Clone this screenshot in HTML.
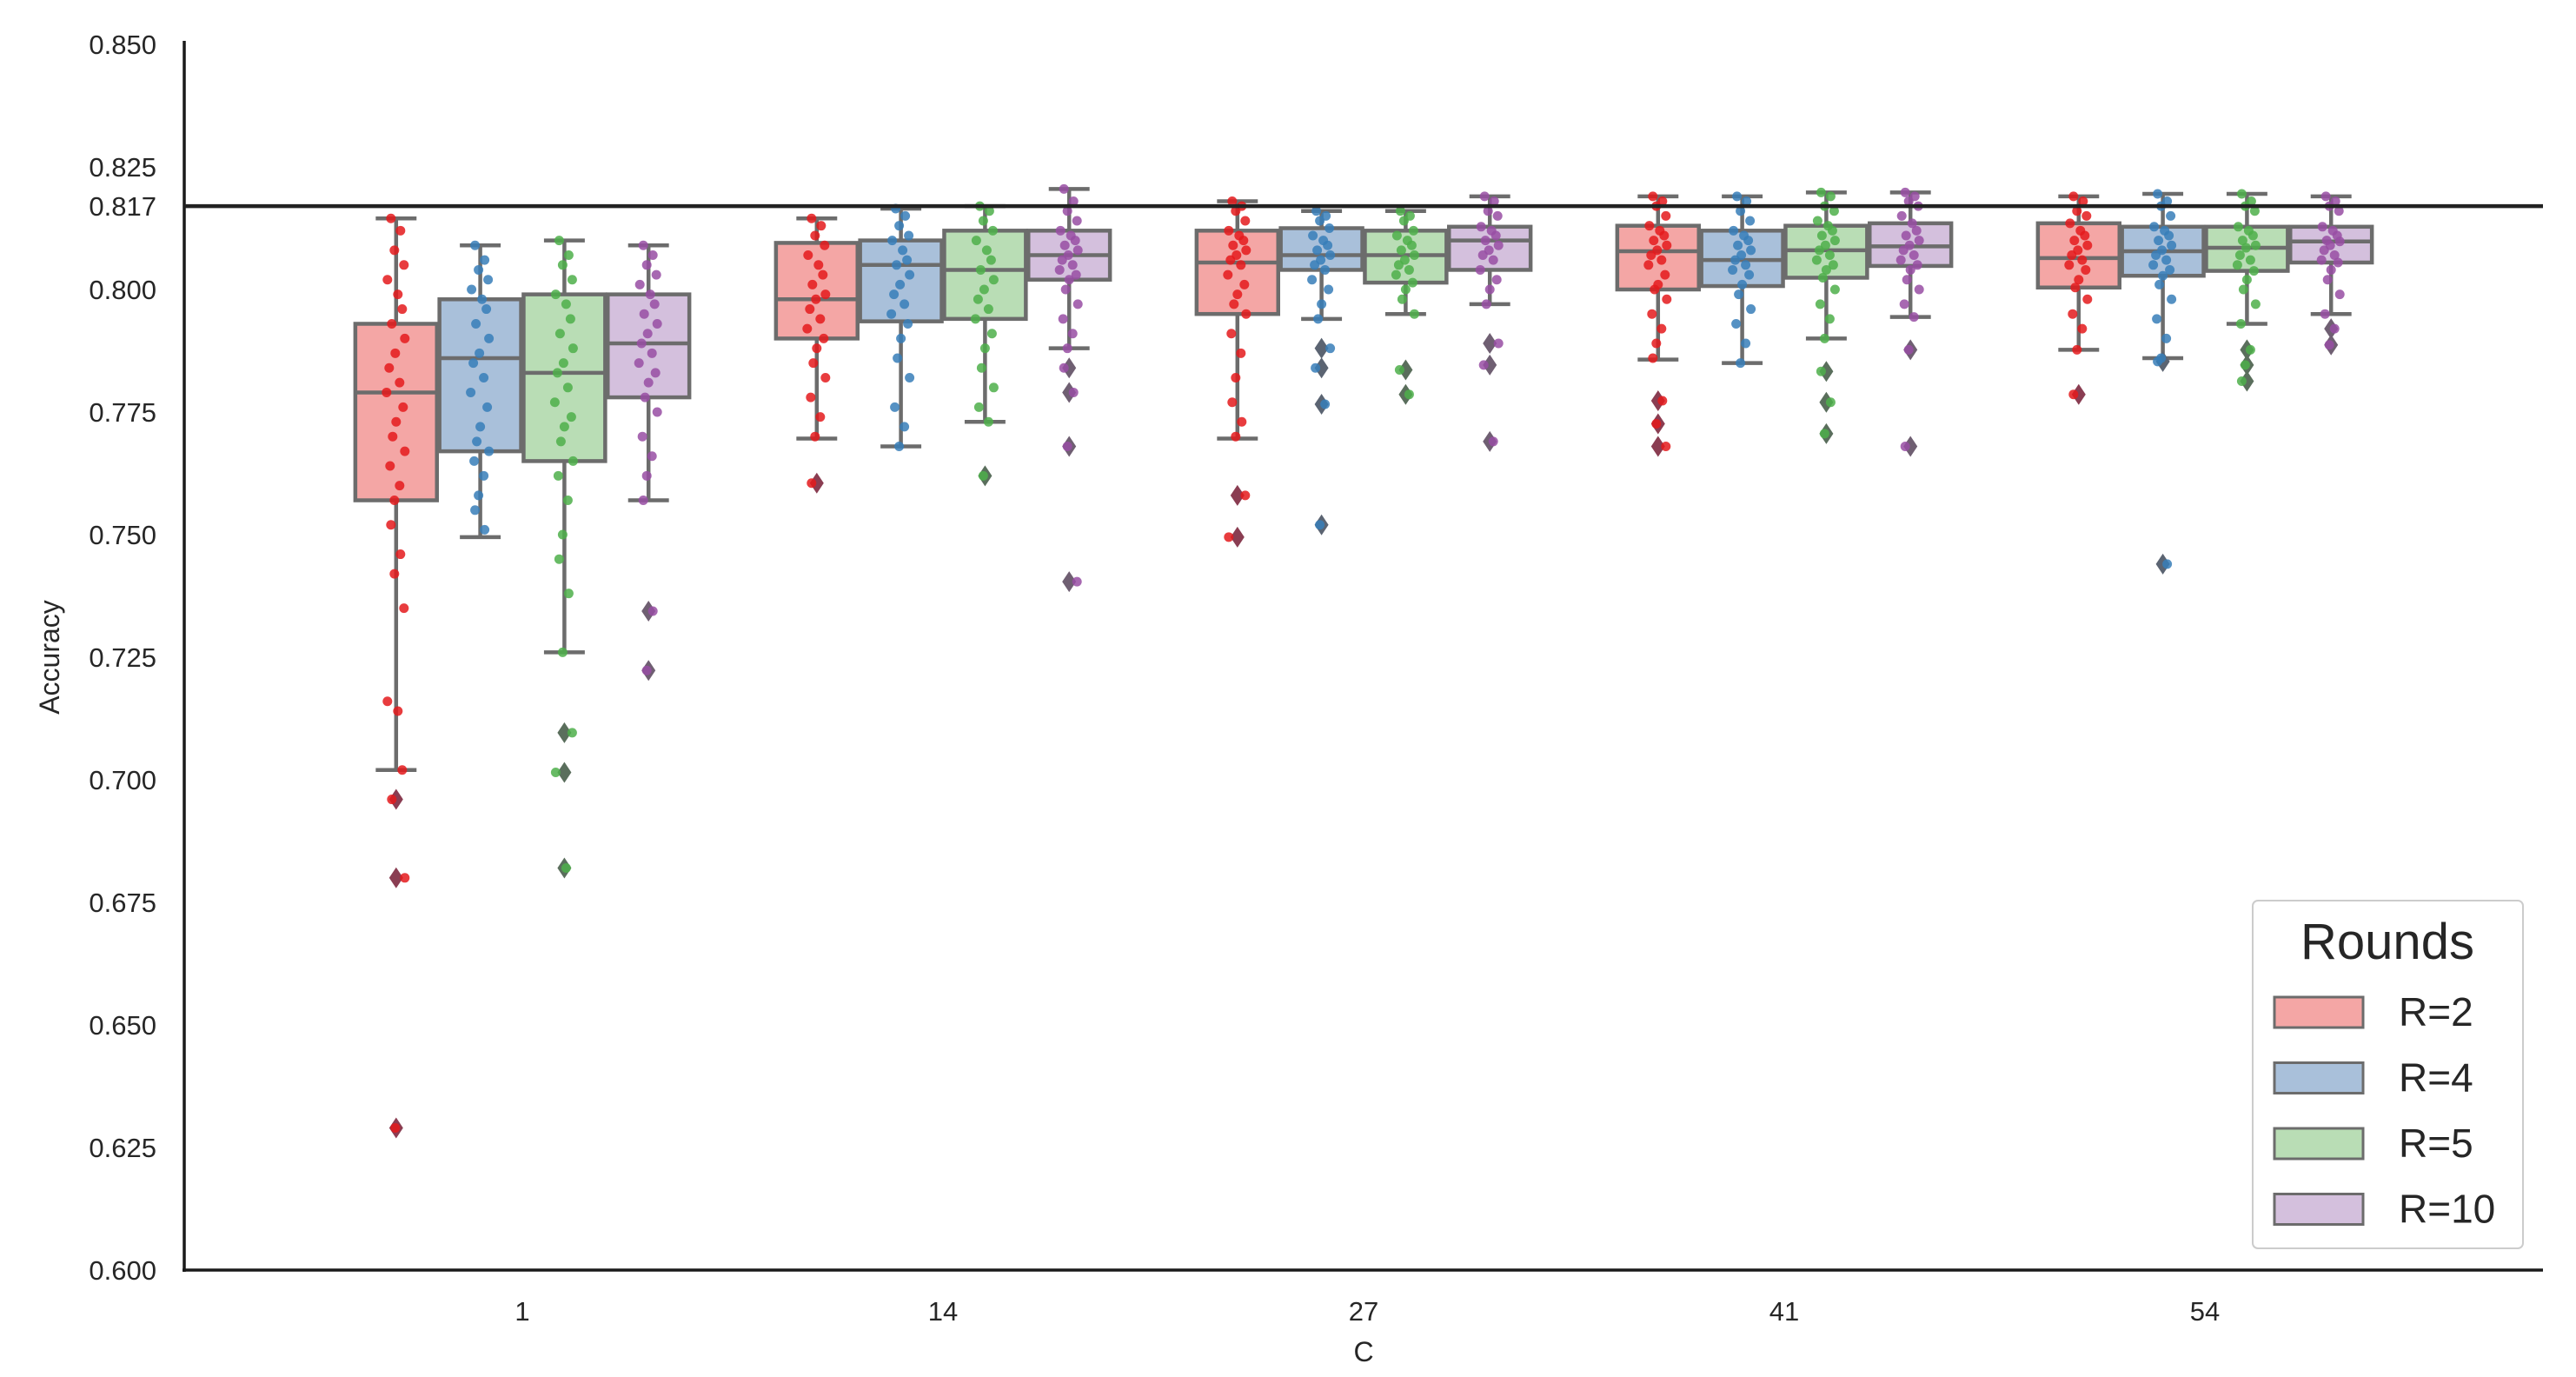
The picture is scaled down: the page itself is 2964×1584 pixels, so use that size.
<!DOCTYPE html>
<html><head><meta charset="utf-8">
<style>
html,body{margin:0;padding:0;background:#fff;}
svg{display:block;font-family:"Liberation Sans",Arial,sans-serif;}
</style></head>
<body>
<svg id="chart" width="2964" height="1584" viewBox="0 0 2964 1584" xmlns="http://www.w3.org/2000/svg"></svg>
<script>
const categories = ["1","14","27","41","54"];
const hues = ["R=2","R=4","R=5","R=10"];
const yTicks = [0.600,0.625,0.650,0.675,0.700,0.725,0.750,0.775,0.800,0.817,0.825,0.850];
const yTickLabels = ["0.600","0.625","0.650","0.675","0.700","0.725","0.750","0.775","0.800","0.817","0.825","0.850"];
const refLine = 0.817;
// box stats per category, per hue: [whiskerLow, Q1, median, Q3, whiskerHigh]
const statsC1 = [[0.702,0.757,0.779,0.793,0.8145],[0.7495,0.767,0.786,0.798,0.809],[0.726,0.765,0.783,0.799,0.810],[0.757,0.778,0.789,0.799,0.809]];
const statsC14 = [[0.7696,0.790,0.798,0.8095,0.8145],[0.768,0.7935,0.805,0.810,0.8165],[0.773,0.794,0.804,0.812,0.817],[0.788,0.802,0.807,0.812,0.8205]];
const statsC27 = [[0.7696,0.795,0.8055,0.812,0.818],[0.794,0.804,0.807,0.8125,0.816],[0.795,0.8014,0.807,0.812,0.816],[0.797,0.804,0.810,0.8128,0.819]];
const statsC41 = [[0.7857,0.800,0.8078,0.813,0.819],[0.785,0.8007,0.806,0.812,0.819],[0.790,0.8024,0.808,0.813,0.8198],[0.7944,0.8048,0.8088,0.8135,0.8198]];
const statsC54 = [[0.7877,0.8004,0.8064,0.8135,0.819],[0.786,0.8028,0.8078,0.8128,0.8195],[0.793,0.8038,0.8085,0.8128,0.8195],[0.795,0.8055,0.8098,0.8128,0.819]];
const outC1 = [[0.696,0.680,0.629],[],[0.7096,0.7015,0.682],[0.7344,0.7223]];
const outC14 = [[0.7605],[],[0.762],[0.784,0.779,0.768,0.7404]];
const outC27 = [[0.758,0.7495],[0.788,0.784,0.7766,0.752],[0.7836,0.7786],[0.789,0.7846,0.769]];
const outC41 = [[0.7773,0.7726,0.768],[],[0.7833,0.777,0.7706],[0.7877,0.768]];
const outC54 = [[0.7786],[0.7853,0.744],[0.7877,0.7846,0.7813],[0.792,0.7887]];
const ptsC1 = [
 [0.8145,0.812,0.808,0.805,0.802,0.799,0.796,0.793,0.790,0.787,0.784,0.781,0.779,0.776,0.773,0.770,0.767,0.764,0.760,0.757,0.752,0.746,0.742,0.735,0.716,0.714,0.702],
 [0.809,0.806,0.804,0.802,0.800,0.798,0.796,0.793,0.790,0.787,0.785,0.782,0.779,0.776,0.772,0.769,0.767,0.765,0.762,0.758,0.755,0.751],
 [0.810,0.807,0.805,0.802,0.799,0.797,0.794,0.791,0.788,0.785,0.783,0.780,0.777,0.774,0.772,0.769,0.765,0.762,0.757,0.750,0.745,0.738,0.726],
 [0.809,0.807,0.805,0.803,0.801,0.799,0.797,0.795,0.793,0.791,0.789,0.787,0.785,0.783,0.781,0.778,0.775,0.770,0.766,0.762,0.757]];
const ptsC14 = [
 [0.8145,0.813,0.811,0.809,0.807,0.805,0.803,0.801,0.799,0.798,0.796,0.794,0.792,0.790,0.788,0.785,0.782,0.778,0.774,0.770],
 [0.8165,0.815,0.813,0.811,0.810,0.808,0.806,0.805,0.803,0.801,0.799,0.797,0.795,0.793,0.790,0.786,0.782,0.776,0.772,0.768],
 [0.817,0.816,0.814,0.812,0.810,0.808,0.806,0.804,0.802,0.800,0.798,0.796,0.794,0.791,0.788,0.784,0.780,0.776,0.773],
 [0.8205,0.818,0.816,0.814,0.812,0.811,0.810,0.809,0.808,0.807,0.806,0.805,0.804,0.803,0.802,0.800,0.797,0.794,0.791,0.788]];
const ptsC27 = [
 [0.818,0.817,0.816,0.814,0.812,0.811,0.810,0.809,0.808,0.807,0.806,0.805,0.803,0.801,0.799,0.797,0.795,0.791,0.787,0.782,0.777,0.773,0.770],
 [0.816,0.815,0.814,0.8125,0.811,0.810,0.809,0.808,0.807,0.806,0.805,0.804,0.802,0.800,0.797,0.794],
 [0.816,0.815,0.814,0.812,0.811,0.810,0.809,0.808,0.807,0.806,0.805,0.804,0.803,0.8014,0.800,0.798,0.795],
 [0.819,0.818,0.816,0.815,0.8128,0.812,0.811,0.810,0.809,0.808,0.807,0.806,0.804,0.802,0.800,0.797]];
const ptsC41 = [
 [0.819,0.818,0.817,0.815,0.813,0.812,0.811,0.810,0.809,0.808,0.807,0.806,0.805,0.803,0.801,0.800,0.798,0.795,0.792,0.789,0.786],
 [0.819,0.818,0.816,0.814,0.812,0.811,0.810,0.809,0.808,0.807,0.806,0.805,0.804,0.803,0.801,0.799,0.796,0.793,0.789,0.785],
 [0.8198,0.819,0.817,0.816,0.814,0.813,0.812,0.811,0.810,0.809,0.808,0.807,0.806,0.805,0.804,0.8024,0.800,0.797,0.794,0.790],
 [0.8198,0.819,0.818,0.817,0.815,0.8135,0.812,0.811,0.810,0.809,0.808,0.807,0.806,0.805,0.804,0.802,0.800,0.797,0.7944]];
const ptsC54 = [
 [0.819,0.818,0.816,0.815,0.8135,0.812,0.811,0.810,0.809,0.808,0.807,0.806,0.805,0.804,0.802,0.8004,0.798,0.795,0.792,0.7877],
 [0.8195,0.818,0.817,0.815,0.8128,0.812,0.811,0.810,0.809,0.808,0.807,0.806,0.805,0.804,0.8028,0.801,0.798,0.794,0.790,0.786],
 [0.8195,0.818,0.817,0.816,0.8128,0.812,0.811,0.810,0.809,0.8085,0.807,0.806,0.805,0.8038,0.802,0.800,0.797,0.793],
 [0.819,0.818,0.817,0.816,0.8128,0.812,0.811,0.810,0.8098,0.809,0.808,0.807,0.806,0.8055,0.804,0.802,0.799,0.795]];
const allStats = [statsC1,statsC14,statsC27,statsC41,statsC54];
const allOut = [outC1,outC14,outC27,outC41,outC54];
const allPts = [ptsC1,ptsC14,ptsC27,ptsC41,ptsC54];

const NS="http://www.w3.org/2000/svg";
const svg=document.getElementById('chart');
const X0=212, X1=2926, Y0=1461, Ytop=51;
const catStep=484, catFirst=601, hueStep=96.8;
function yScale(v){return Y0-(v-0.6)/0.25*(Y0-Ytop);}
function xCat(i){return catFirst+i*catStep;}
function xHue(i,j){return xCat(i)+(j-1.5)*hueStep;}
function mk(tag,attrs,parent){const e=document.createElementNS(NS,tag);for(const k in attrs)e.setAttribute(k,attrs[k]);(parent||svg).appendChild(e);return e;}
const fills=["#f4a6a5","#a9c0da","#b9ddb5","#d4c0dd"];
const dots=["#e41a1c","#377eb8","#4daf4a","#984ea3"];
const outCol=["#8a3d52","#5b6472","#5a6e5c","#6f5f72"];
const edge="#6c6c6c";
const jit=[-6,5,-2,9,-10,2,7,-5,10,-1,-8,4,-11,8,0,-4,10,-7,4,-2];

yTicks.forEach((v,k)=>{
  const t=mk('text',{x:180,y:yScale(v)+11,'text-anchor':'end','font-size':31,fill:'#262626'});
  t.textContent=yTickLabels[k];
  
  
});
categories.forEach((c,i)=>{
  const t=mk('text',{x:xCat(i),y:1519,'text-anchor':'middle','font-size':31,fill:'#262626'});
  t.textContent=c;
  
  
});
const yl=mk('text',{x:0,y:0,transform:'translate(68,756) rotate(-90)','text-anchor':'middle','font-size':32,fill:'#262626'});
yl.textContent='Accuracy';


const xl=mk('text',{x:1569,y:1566,'text-anchor':'middle','font-size':32,fill:'#262626'});
xl.textContent='C';



allStats.forEach((cat,i)=>{
  cat.forEach((s,j)=>{
    const g=mk('g',{});
    
    
    const cx=xHue(i,j), w=hueStep*0.97, cap=w*0.5;
    mk('line',{x1:cx,x2:cx,y1:yScale(s[0]),y2:yScale(s[1]),stroke:edge,'stroke-width':4.5},g);
    mk('line',{x1:cx,x2:cx,y1:yScale(s[3]),y2:yScale(s[4]),stroke:edge,'stroke-width':4.5},g);
    mk('line',{x1:cx-cap/2,x2:cx+cap/2,y1:yScale(s[0]),y2:yScale(s[0]),stroke:edge,'stroke-width':4.5},g);
    mk('line',{x1:cx-cap/2,x2:cx+cap/2,y1:yScale(s[4]),y2:yScale(s[4]),stroke:edge,'stroke-width':4.5},g);
    mk('rect',{x:cx-w/2,y:yScale(s[3]),width:w,height:yScale(s[1])-yScale(s[3]),fill:fills[j],stroke:edge,'stroke-width':4.5},g);
    mk('line',{x1:cx-w/2,x2:cx+w/2,y1:yScale(s[2]),y2:yScale(s[2]),stroke:edge,'stroke-width':4.5},g);
    allOut[i][j].forEach(v=>{
      const y=yScale(v);
      const d=mk('polygon',{points:`${cx},${y-12} ${cx+8},${y} ${cx},${y+12} ${cx-8},${y}`,fill:outCol[j]},g);
      
      
    });
  });
});
allPts.forEach((cat,i)=>{
  cat.forEach((arr,j)=>{
    const cx=xHue(i,j);
    arr.concat(allOut[i][j]).forEach((v,k)=>{
      const c=mk('circle',{cx:cx+jit[k%jit.length],cy:yScale(v),r:5.5,fill:dots[j],'fill-opacity':0.85});
      
      
    });
  });
});
const ax=mk('line',{x1:X0,x2:X0,y1:Ytop-4,y2:Y0+2,stroke:'#1a1a1a','stroke-width':3.5});


const bx=mk('line',{x1:X0-2,x2:X1,y1:Y0,y2:Y0,stroke:'#1a1a1a','stroke-width':3.5});


const rl=mk('line',{x1:X0,x2:X1,y1:yScale(refLine),y2:yScale(refLine),stroke:'#222','stroke-width':4.5});



const lg=mk('g',{});


mk('rect',{x:2592,y:1036,width:311,height:400,rx:6,fill:'#fff',stroke:'#cccccc','stroke-width':2},lg);
const lt=mk('text',{x:2747,y:1103,'text-anchor':'middle','font-size':58,fill:'#262626'},lg);
lt.textContent='Rounds';


hues.forEach((h,j)=>{
  const y=1147+j*75.5;
  const r=mk('rect',{x:2617,y:y,width:102,height:35,fill:fills[j],stroke:edge,'stroke-width':3},lg);
  
  
  const t=mk('text',{x:2760,y:y+33,'font-size':46,fill:'#262626'},lg);
  t.textContent=h;
  
  
});
</script>
</body></html>
